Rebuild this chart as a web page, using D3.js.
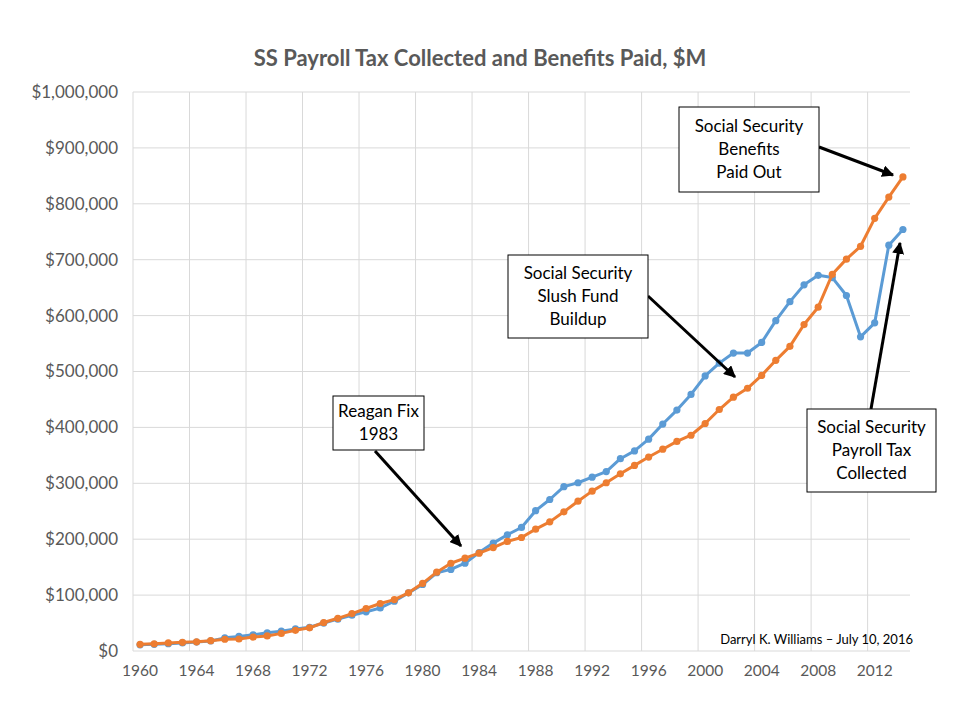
<!DOCTYPE html>
<html><head><meta charset="utf-8">
<script src="https://cdn.jsdelivr.net/npm/d3@7"></script>
<style>
body{margin:0;background:#fff;}
svg{display:block;font-family:Lato,"Open Sans",sans-serif;}
</style></head>
<body>
<svg id="c" width="960" height="720"></svg>
<script>
const years = d3.range(1960, 2015);
const benefitsPaid = [12000,13000,14500,15500,16500,18500,21000,21500,25000,27000,31500,37000,41500,51000,58500,67000,76000,85000,92000,104000,121000,141000,157000,166000,175000,185000,196000,203000,218000,231000,249000,268000,286000,301000,317000,332000,347000,361000,375000,386000,407000,432000,454000,470000,493000,520000,545000,584000,615000,674000,701000,724000,774000,812000,848000];
const payrollTax = [11000,12000,13000,14500,16000,18000,23500,26000,29000,32500,35500,39500,42500,50000,57000,64000,70000,77000,89000,104000,119000,140000,146000,157000,176000,193000,208000,221000,251000,271000,294000,301000,311000,321000,344000,358000,379000,406000,431000,459000,492000,515000,533000,533000,552000,591000,625000,655000,672000,668000,636000,562000,587000,726000,754000];
const yTicks = d3.range(0, 1000001, 100000);
const xTickYears = years.filter(y => (y - 1960) % 4 === 0);
const title = "SS Payroll Tax Collected and Benefits Paid, $M";
const credit = "Darryl K. Williams \u2013 July 10, 2016";

const svg = d3.select("#c");
const L = 133, R = 910, T = 92, B = 651;
const x = d3.scaleBand().domain(years).range([L, R]).paddingInner(0).paddingOuter(0);
const y = d3.scaleLinear().domain([0, 1000000]).range([B, T]);
const cx = yr => x(yr) + x.bandwidth() / 2;
const grid = "#d9d9d9", txt = "#595959";

// horizontal gridlines
svg.append("g").selectAll("line").data(yTicks).join("line")
  .attr("x1", L).attr("x2", R).attr("y1", d => y(d)).attr("y2", d => y(d))
  .attr("stroke", grid).attr("stroke-width", 1);
// vertical gridlines
svg.append("g").selectAll("line").data(xTickYears).join("line")
  .attr("x1", d => x(d)).attr("x2", d => x(d)).attr("y1", T).attr("y2", B)
  .attr("stroke", grid).attr("stroke-width", 1);

// y axis labels
const fmt = d3.format(",");
svg.append("g").selectAll("text").data(yTicks).join("text")
  .attr("x", 118).attr("y", d => y(d)).attr("dy", "0.35em")
  .attr("text-anchor", "end").attr("fill", txt).attr("font-size", 17)
  .text(d => "$" + fmt(d));
// x axis labels
svg.append("g").selectAll("text").data(xTickYears).join("text")
  .attr("x", d => cx(d)).attr("y", 676)
  .attr("text-anchor", "middle").attr("fill", txt).attr("font-size", 15.5)
  .text(d => d);

// title
svg.append("text").attr("x", 480).attr("y", 66).attr("text-anchor", "middle")
  .attr("fill", txt).attr("font-size", 22).attr("font-weight", "bold").text(title);

// series
const series = [
  {vals: payrollTax, color: "#5B9BD5"},
  {vals: benefitsPaid, color: "#ED7D31"}
];
const line = d3.line().x((d, i) => cx(years[i])).y(d => y(d));
series.forEach(s => {
  const g = svg.append("g");
  g.append("path").attr("d", line(s.vals)).attr("fill", "none")
    .attr("stroke", s.color).attr("stroke-width", 3).attr("stroke-linejoin", "round");
  g.selectAll("circle").data(s.vals).join("circle")
    .attr("cx", (d, i) => cx(years[i])).attr("cy", d => y(d)).attr("r", 3.6)
    .attr("fill", s.color);
});

// credit
svg.append("text").attr("x", 913).attr("y", 644).attr("text-anchor", "end")
  .attr("fill", "#000").attr("font-size", 13).text(credit);

// arrow marker
svg.append("defs").append("marker").attr("id", "ah")
  .attr("viewBox", "0 0 10 10").attr("refX", 9).attr("refY", 5)
  .attr("markerWidth", 4).attr("markerHeight", 4).attr("orient", "auto")
  .append("path").attr("d", "M0,0 L10,5 L0,10 z").attr("fill", "#000");

// annotations
const notes = [
  {box: [333, 396, 91, 54], lines: ["Reagan Fix", "1983"], arrow: [375, 451, 461, 546]},
  {box: [508, 255, 140, 83], lines: ["Social Security", "Slush Fund", "Buildup"], arrow: [648, 296, 735, 377]},
  {box: [679, 107, 140, 85], lines: ["Social Security", "Benefits", "Paid Out"], arrow: [819, 147, 893, 175]},
  {box: [807, 409, 129, 83], lines: ["Social Security", "Payroll Tax", "Collected"], arrow: [871, 409, 900, 243]}
];
notes.forEach(n => {
  const [bx, by, bw, bh] = n.box;
  svg.append("line").attr("x1", n.arrow[0]).attr("y1", n.arrow[1])
    .attr("x2", n.arrow[2]).attr("y2", n.arrow[3])
    .attr("stroke", "#000").attr("stroke-width", 3).attr("marker-end", "url(#ah)");
  svg.append("rect").attr("x", bx).attr("y", by).attr("width", bw).attr("height", bh)
    .attr("fill", "#fff").attr("stroke", "#000").attr("stroke-width", 1);
  const lh = 23;
  const startY = by + bh / 2 - (n.lines.length - 1) * lh / 2;
  n.lines.forEach((t, i) => {
    svg.append("text").attr("x", bx + bw / 2).attr("y", startY + i * lh).attr("dy", "0.35em")
      .attr("text-anchor", "middle").attr("fill", "#000").attr("font-size", 17).text(t);
  });
});
</script>
</body></html>
